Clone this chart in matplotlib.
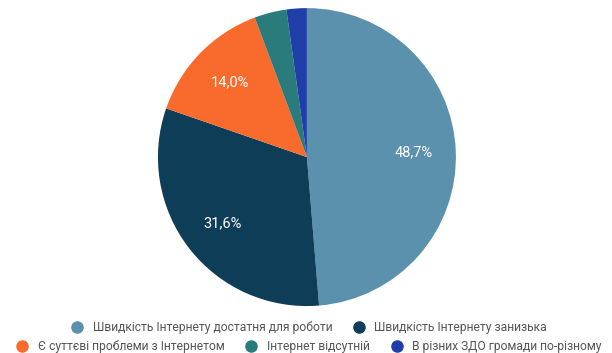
import matplotlib.pyplot as plt
from matplotlib.lines import Line2D

labels = ["Швидкість Інтернету достатня для роботи", "Швидкість Інтернету занизька",
          "Є суттєві проблеми з Інтернетом", "Інтернет відсутній",
          "В різних ЗДО громади по-різному"]
values = [48.7, 31.6, 14.0, 3.5, 2.2]
colors = ["#5b91ad", "#0e3d58", "#f96b2c", "#2a7c7c", "#1f3ea8"]

plt.rcParams['font.family'] = ['Roboto', 'DejaVu Sans']

fig = plt.figure(figsize=(6.12, 3.53), dpi=100)
ax = fig.add_axes([0.258, 0.133, 0.487, 0.844])

def fmt(p):
    return ("%.1f%%" % p).replace(".", ",") if p > 10 else ""

wedges, texts, autotexts = ax.pie(values, colors=colors, startangle=90, counterclock=False,
                                  autopct=fmt, pctdistance=0.72,
                                  textprops=dict(color="white", fontsize=10.5))
ax.set_xlim(-1, 1)
ax.set_ylim(-1, 1)
ax.set_aspect("equal")

handles = [Line2D([], [], marker="o", linestyle="", markersize=8, color=c) for c in colors]
fig.legend(handles[:2], labels[:2], loc="center", bbox_to_anchor=(0.5, 0.073), ncol=2,
           frameon=False, fontsize=8.7, labelcolor="#555555", handletextpad=0.3, columnspacing=1.2)
fig.legend(handles[2:], labels[2:], loc="center", bbox_to_anchor=(0.5, 0.017), ncol=3,
           frameon=False, fontsize=8.7, labelcolor="#555555", handletextpad=0.3, columnspacing=1.2)

fig.savefig("out.png", dpi=100)
